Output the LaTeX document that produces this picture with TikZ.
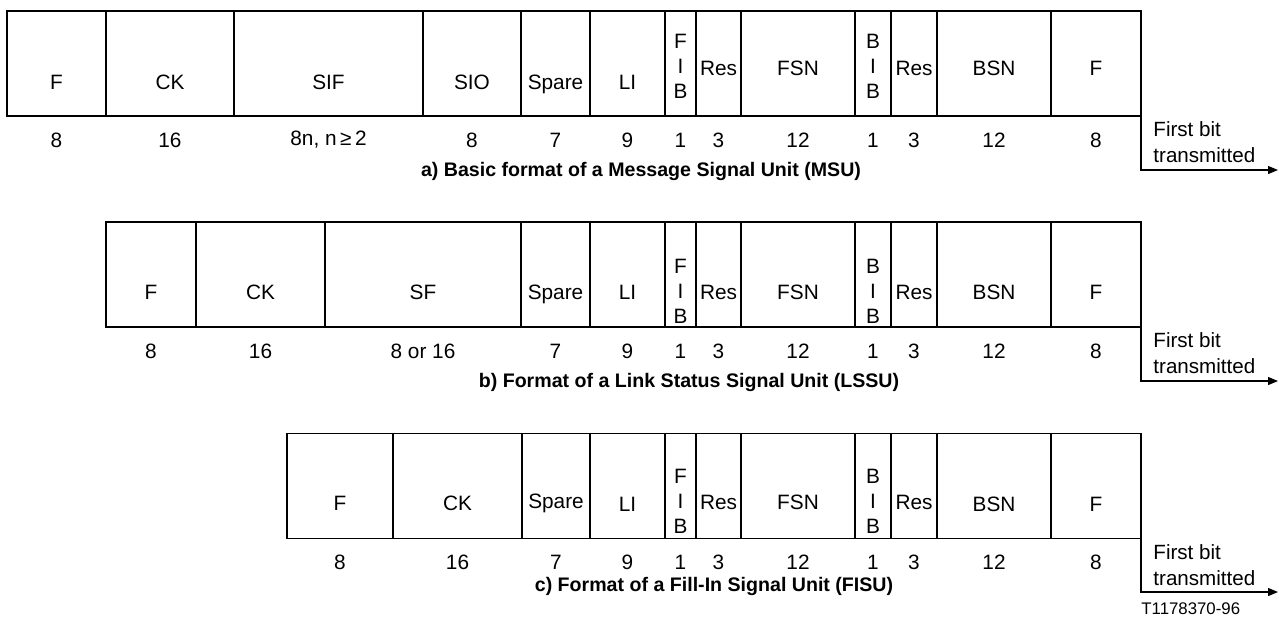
\documentclass[tikz,border=0pt]{standalone}
\usepackage{fontspec}
\setmainfont{Liberation Sans}
\usetikzlibrary{arrows.meta}
\tikzset{
    field/.style={rectangle, draw=black, line width=0.6pt, outer sep=0pt, inner sep=0pt, minimum height=52.5pt},
    fieldlbl/.style={font=\fontsize{10.4}{12.5}\selectfont, align=center, inner sep=0pt},
    bitlbl/.style={font=\fontsize{10.4}{12.5}\selectfont, inner sep=0pt},
    caplbl/.style={font=\fontsize{9.8}{12}\selectfont\bfseries, inner sep=0pt},
    fbtxt/.style={font=\fontsize{10.3}{13}\selectfont, align=left, inner sep=0pt, anchor=west},
    fbarr/.style={-{Triangle[length=5pt, width=4pt]}, line width=0.6pt},
    reflbl/.style={font=\fontsize{8.4}{10}\selectfont, inner sep=0pt, anchor=west}
}

\begin{document}
\begin{tikzpicture}[x=0.5pt, y=-0.5pt]
    \useasboundingbox (0,0) rectangle (1279,617);

    % a) MSU
    \foreach \lx/\rx/\txt/\nb/\dy [count=\i] in {7/106/F/8/20.5, 106/234/CK/16/20.5, 234/423/SIF/{8n, n\,≥\,2}/20.5,
        423/521/SIO/8/20.5, 521/590/Spare/7/20.5, 590/665/LI/9/20.5, 665/696/{F\\I\\B}/1/5,
        696/741/Res/3/6.5, 741/855/FSN/12/6.5, 855/891/{B\\I\\B}/1/5, 891/937/Res/3/6.5,
        937/1051/BSN/12/6.5, 1051/1141/F/8/6.5} {
        \node[field, minimum width={(\rx-\lx)*0.5pt}] (a\i) at ({(\lx+\rx)/2}, 63.5) {};
        \node[fieldlbl] (al\i) at ([yshift={-\dy*0.5pt}]a\i.center) {\txt\vphantom{p}};
        \node[bitlbl] (ab\i) at ([yshift=-12pt]a\i.south) {\nb};
    }
    \node[caplbl] (capa) at (641, 171) {a) Basic format of a Message Signal Unit (MSU)};
    \node[fbtxt] (fba) at (1153, 142) {First bit\\transmitted};
    \coordinate (enda) at (1278, 170);
    \draw[fbarr] (a13.south east) |- (enda);

    % b) LSSU
    \foreach \lx/\rx/\txt/\nb/\dy [count=\i] in {106/196/F/8/19.5, 196/325/CK/16/19.5, 325/521/SF/8 or 16/19.5,
        521/590/Spare/7/19.5, 590/665/LI/9/19.5, 665/696/{F\\I\\B}/1/18.5, 696/741/Res/3/19.5,
        741/855/FSN/12/19.5, 855/891/{B\\I\\B}/1/18.5, 891/937/Res/3/19.5, 937/1051/BSN/12/19.5,
        1051/1141/F/8/19.5} {
        \node[field, minimum width={(\rx-\lx)*0.5pt}] (b\i) at ({(\lx+\rx)/2}, 274.5) {};
        \node[fieldlbl] (bl\i) at ([yshift={-\dy*0.5pt}]b\i.center) {\txt\vphantom{p}};
        \node[bitlbl] (bb\i) at ([yshift=-12pt]b\i.south) {\nb};
    }
    \node[caplbl] (capb) at (689, 382) {b) Format of a Link Status Signal Unit (LSSU)};
    \node[fbtxt] (fbb) at (1153, 353) {First bit\\transmitted};
    \coordinate (endb) at (1278, 381);
    \draw[fbarr] (b12.south east) |- (endb);

    % c) FISU
    \foreach \lx/\rx/\txt/\nb/\dy [count=\i] in {287/393/F/8/19, 393/522/CK/16/19, 522/590/Spare/7/17,
        590/665/LI/9/20, 665/696/{F\\I\\B}/1/17, 696/741/Res/3/18, 741/855/FSN/12/18,
        855/891/{B\\I\\B}/1/17, 891/937/Res/3/18, 937/1051/BSN/12/20, 1051/1141/F/8/20} {
        \node[field, minimum width={(\rx-\lx)*0.5pt}] (c\i) at ({(\lx+\rx)/2}, 486) {};
        \node[fieldlbl] (cl\i) at ([yshift={-\dy*0.5pt}]c\i.center) {\txt\vphantom{p}};
        \node[bitlbl] (cb\i) at ([yshift=-12pt]c\i.south) {\nb};
    }
    \node[caplbl] (capc) at (714, 586) {c) Format of a Fill-In Signal Unit (FISU)};
    \node[fbtxt] (fbc) at (1153, 565) {First bit\\transmitted};
    \coordinate (endc) at (1278, 592);
    \draw[fbarr] (c11.south east) |- (endc);

    \node[reflbl] (ref) at (1141, 609) {T1178370-96};
\end{tikzpicture}
\end{document}
